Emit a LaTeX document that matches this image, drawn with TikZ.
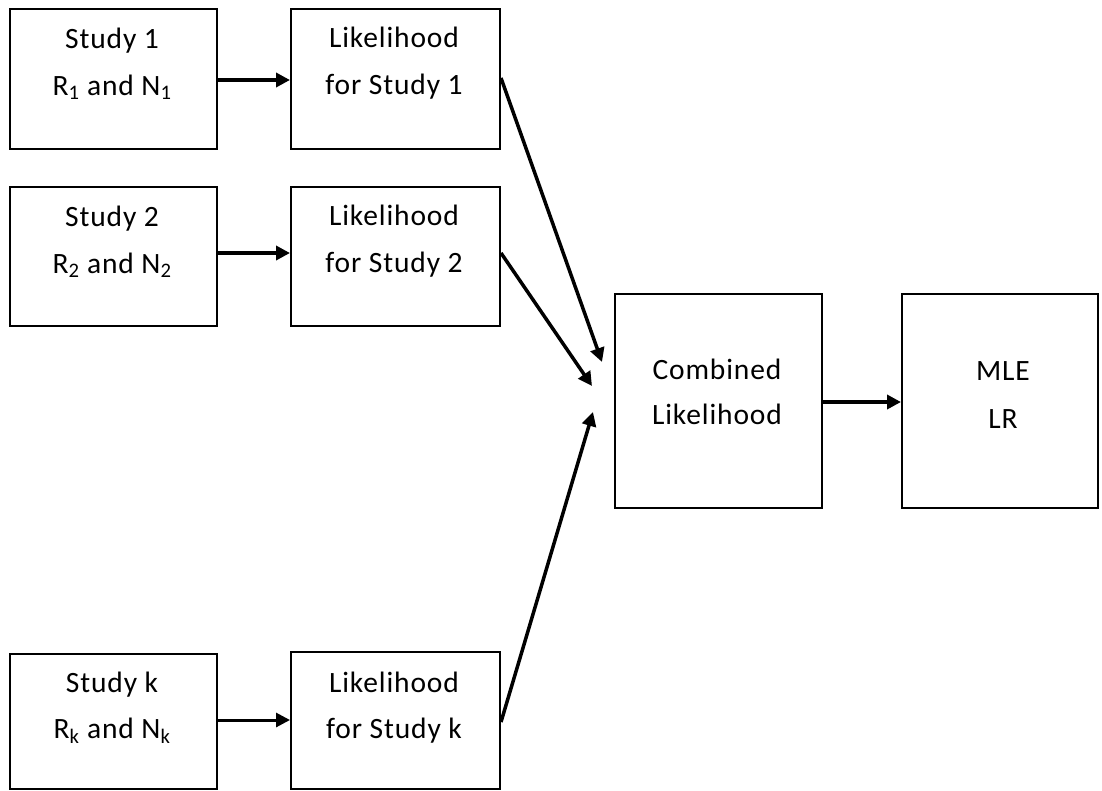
\documentclass[tikz,border=0pt]{standalone}
\usepackage{fontspec}
\setmainfont[LetterSpace=3]{Carlito}
\usetikzlibrary{arrows.meta}
\tikzset{
  box/.style={draw=black, line width=2pt, inner sep=0pt},
  txt/.style={align=center, inner sep=0pt, anchor=base, font=\fontsize{29.5}{47}\selectfont},
  conn/.style={line width=3.5pt, -{Triangle[length=14pt,width=14pt]}},
}
\newcommand{\boxat}[5]{\node[box, minimum width=#4-#2, minimum height=#5-#3, anchor=north west] (#1) at (#2,#3) {};}
\begin{document}
\begin{tikzpicture}[x=1pt,y=-1pt]
\useasboundingbox (0,0) rectangle (1102,790);
% boxes
\boxat{s1}{9}{8}{216}{148}
\boxat{l1}{290}{8}{499}{148}
\boxat{s2}{9}{186}{216}{325}
\boxat{l2}{290}{186}{499}{325}
\boxat{sk}{9}{653}{216}{788}
\boxat{lk}{290}{651}{499}{788}
\boxat{cl}{614}{293}{821}{507}
\boxat{ml}{901}{293}{1097}{507}
% texts (anchor at baseline of last line)
\node[txt] (s1t) at (112,95) {Study 1\\R\textsubscript{1} and N\textsubscript{1}};
\node[txt] (l1t) at (394,94) {Likelihood\\for Study 1};
\node[txt] (s2t) at (112,273) {Study 2\\R\textsubscript{2} and N\textsubscript{2}};
\node[txt] (l2t) at (394,272) {Likelihood\\for Study 2};
\node[txt, font=\fontsize{29.5}{46}\selectfont] (skt) at (112,738) {Study k\\R\textsubscript{k} and N\textsubscript{k}};
\node[txt, font=\fontsize{29.5}{46}\selectfont] (lkt) at (394,738) {Likelihood\\for Study k};
\node[txt, font=\fontsize{29.5}{45}\selectfont] (clt) at (717,424) {Combined\\Likelihood};
\node[txt, font=\fontsize{29.5}{48}\selectfont] (mlt) at (1003,428) {MLE\\LR};
% connector end coordinates
\coordinate (t1) at (602,362);
\coordinate (t2) at (592,386);
\coordinate (tk) at (593,412);
% connectors
\draw[conn] (s1.east |- 0,80) -- (l1.west |- 0,80);
\draw[conn] (s2.east |- 0,253) -- (l2.west |- 0,253);
\draw[conn, line width=3pt] (sk.east |- 0,720) -- (lk.west |- 0,720);
\draw[conn] (l1.east |- 0,78) -- (t1);
\draw[conn] (l2.east |- 0,253) -- (t2);
\draw[conn] (lk.east |- 0,722) -- (tk);
\draw[conn] (cl.east |- 0,402) -- (ml.west |- 0,402);
\end{tikzpicture}
\end{document}
